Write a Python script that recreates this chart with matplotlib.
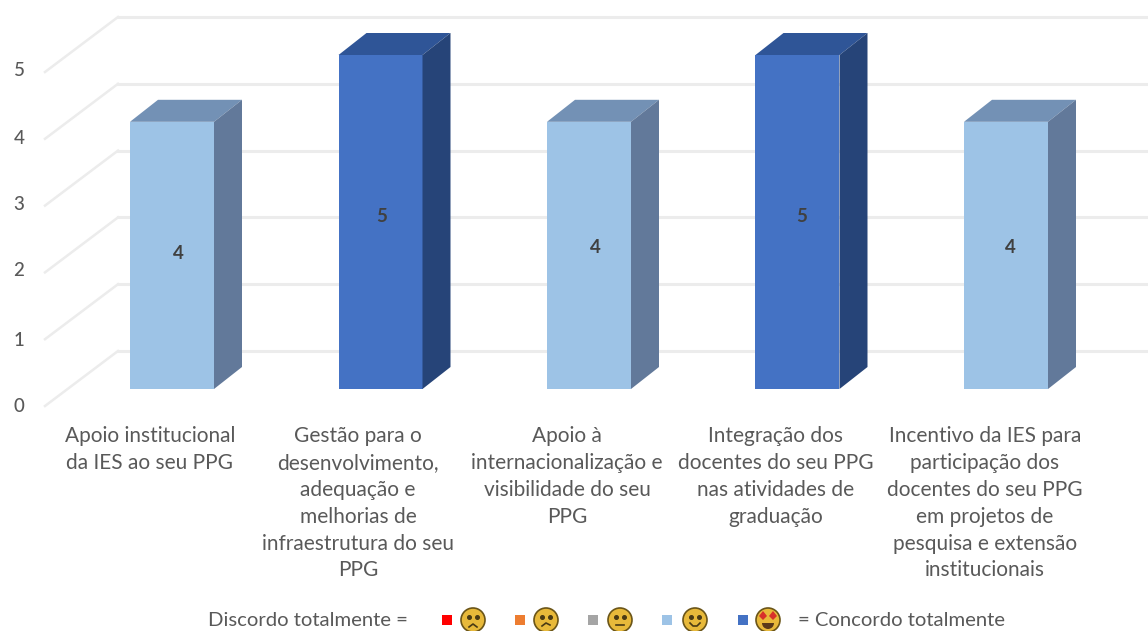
import matplotlib
matplotlib.use("Agg")
import matplotlib.pyplot as plt
from matplotlib.patches import Circle, Rectangle, Polygon, Wedge

plt.rcParams["font.family"] = ["Lato", "DejaVu Sans"]

categories = [
    "Apoio institucional\nda IES ao seu PPG",
    "Gestão para o\ndesenvolvimento,\nadequação e\nmelhorias de\ninfraestrutura do seu\nPPG",
    "Apoio à\ninternacionalização e\nvisibilidade do seu\nPPG",
    "Integração dos\ndocentes do seu PPG\nnas atividades de\ngraduação",
    "Incentivo da IES para\nparticipação dos\ndocentes do seu PPG\nem projetos de\npesquisa e extensão\ninstitucionais",
]
values = [4, 5, 4, 5, 4]
yticks = [0, 1, 2, 3, 4, 5]
legend_colors = ["#FF0000", "#ED7D31", "#A5A5A5", "#9DC3E6", "#4472C4"]

PX_X = 208.5
PX_Y = 66.8
W, H = 1148, 631
TEXT = "#595959"

fig = plt.figure(figsize=(W / 100, H / 100), dpi=100)
ax = fig.add_axes([0, 0, 1, 1])
ax.set_xlim(-172 / PX_X, (W - 172) / PX_X)
ax.set_ylim(-(H - 389) / PX_Y, 389 / PX_Y)
ax.axis("off")

# back wall and side wall gridlines
for v in yticks:
    back_y = v + 38 / PX_Y
    ax.plot([118 / PX_X - 172 / PX_X, 1148 / PX_X], [back_y, back_y], color="#ECECEC", lw=2.2, zorder=1)
    ax.plot([45 / PX_X - 172 / PX_X, 118 / PX_X - 172 / PX_X], [back_y - 55 / PX_Y, back_y],
            color="#ECECEC", lw=1.8, zorder=1)

# 3d bars
dx = 28 / PX_X
dy = 22 / PX_Y
bw = 84 / PX_X
for i, v in enumerate(values):
    dark = v == 5
    front = "#4472C4" if dark else "#9DC3E6"
    top = "#2F5597" if dark else "#7391B5"
    side = "#264478" if dark else "#62799A"
    x0 = i - bw / 2
    x1 = x0 + bw
    ax.bar(x0 + bw / 2, v, width=bw, color=front, zorder=3)
    ax.fill([x0, x1, x1 + dx, x0 + dx], [v, v, v + dy, v + dy], color=top, zorder=3, lw=0)
    ax.fill([x1, x1 + dx, x1 + dx, x1], [0, dy, v + dy, v], color=side, zorder=3, lw=0)

label_dx = [6, 1, 6, 4, 4]
label_dy = [2, 5, 8, 5, 8]
for i, v in enumerate(values):
    ax.annotate(str(v), (i, v / 2), xytext=(label_dx[i], label_dy[i]), textcoords="offset pixels",
                ha="center", va="center", fontsize=13.5, fontweight="bold", color="#404040", zorder=4)

# pixel overlay for tick labels, category labels and the emoji legend
ov = fig.add_axes([0, 0, 1, 1])
ov.set_xlim(0, W)
ov.set_ylim(H, 0)
ov.axis("off")
ov.patch.set_alpha(0)

tick_y = [407, 340, 271, 205, 138, 70]
for v, y in zip(yticks, tick_y):
    ov.text(19, y, str(v), ha="center", va="center", fontsize=13.5, fontweight="medium", color=TEXT)

cat_x = [150, 358, 567, 776, 985]
for x, lab in zip(cat_x, categories):
    ov.text(x, 426, lab, ha="center", va="top", fontsize=15, color=TEXT, linespacing=1.43)

ov.text(408, 620, "Discordo totalmente =", ha="right", va="center", fontsize=14.6, color=TEXT)
ov.text(798, 621, "= Concordo totalmente", ha="left", va="center", fontsize=14.6, color=TEXT)

square_x = [447, 520, 593, 667, 743]
face_x = [473, 546, 620, 695, 768]
for sx, fx, col, kind in zip(square_x, face_x, legend_colors, range(5)):
    ov.add_patch(Rectangle((sx - 5, 615), 10, 10, color=col, lw=0))
    ov.add_patch(Circle((fx, 620), 12, facecolor="#E8B93A", edgecolor="#6B5518", lw=1.2))
    if kind == 4:
        for ex in (-5, 5):
            ov.add_patch(Polygon([(fx + ex - 4, 616), (fx + ex, 620), (fx + ex + 4, 616), (fx + ex, 611)],
                                 color="#D8302A", lw=0))
        ov.add_patch(Wedge((fx, 623), 6, 0, 180, color="#5A3A1A", lw=0))
        ov.set_ylim(H, 0)
    else:
        for ex in (-4, 4):
            ov.plot([fx + ex], [617], "o", ms=2.6, color="#4A3A14")
        if kind == 0:
            ov.plot([fx - 4, fx, fx + 4], [627, 624, 627], color="#4A3A14", lw=1.2)
        elif kind == 1:
            ov.plot([fx - 4, fx, fx + 4], [626, 623, 625], color="#4A3A14", lw=1.2)
        elif kind == 2:
            ov.plot([fx - 4, fx + 4], [625, 625], color="#4A3A14", lw=1.2)
        else:
            ov.plot([fx - 5, fx - 2, fx + 2, fx + 5], [623, 626, 626, 623], color="#4A3A14", lw=1.2)

fig.savefig("out.png", dpi=100, facecolor="white")
